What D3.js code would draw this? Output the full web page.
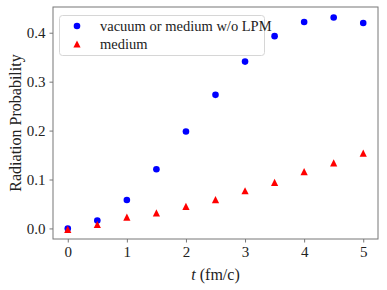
<!DOCTYPE html>
<head>
  <meta charset="utf-8">
  <script src="https://cdnjs.cloudflare.com/ajax/libs/d3/7.8.5/d3.min.js"></script>
  <style>
    body { margin:0; background:#fff; }
    text { font-family: "Liberation Serif", "DejaVu Serif", serif; fill:#222; }
  </style>
</head>
<body>
  <div id="vis"></div>
  <script>
    // time points (fm/c)
    var times = [0, 0.5, 1, 1.5, 2, 2.5, 3, 3.5, 4, 4.5, 5];
    var vacuum = [0.000, 0.016, 0.058, 0.121, 0.198, 0.273, 0.341, 0.393, 0.422, 0.431, 0.420];
    var medium = [-0.002, 0.008, 0.023, 0.032, 0.045, 0.059, 0.077, 0.094, 0.116, 0.134, 0.154];
    var xTicks = [0, 1, 2, 3, 4, 5];
    var yTicks = [0.0, 0.1, 0.2, 0.3, 0.4];
    var legendLabels = ["vacuum or medium w/o LPM", "medium"];

    var width = 387, height = 290;
    var m = {left: 53, right: 9, top: 7, bottom: 51};

    var svg = d3.select("#vis").append("svg")
      .attr("width", width)
      .attr("height", height);

    var x = d3.scaleLinear().domain([-0.25, 5.25]).range([m.left, width - m.right]);
    var y = d3.scaleLinear().domain([-0.0216, 0.4526]).range([height - m.bottom, m.top]);

    var xAxis = svg.append("g")
      .attr("transform", "translate(0," + (height - m.bottom) + ")")
      .call(d3.axisBottom(x).tickValues(xTicks).tickFormat(d3.format("d")).tickSize(3.5).tickPadding(4));
    var yAxis = svg.append("g")
      .attr("transform", "translate(" + m.left + ",0)")
      .call(d3.axisLeft(y).tickValues(yTicks).tickFormat(d3.format(".1f")).tickSize(3.5).tickPadding(4));

    [xAxis, yAxis].forEach(function(g) {
      g.select(".domain").remove();
      g.selectAll(".tick line").attr("stroke", "#555").attr("stroke-width", 0.8);
      g.selectAll(".tick text").style("font-size", "15px").attr("fill", "#333");
    });

    // frame
    svg.append("rect")
      .attr("x", m.left).attr("y", m.top)
      .attr("width", width - m.left - m.right)
      .attr("height", height - m.top - m.bottom)
      .attr("fill", "none").attr("stroke", "#777").attr("stroke-width", 1);

    var pts = times.map(function(t, i) { return {t: t, v: vacuum[i], m: medium[i]}; });
    var triPath = "M0,-3.6L3.6,3.6L-3.6,3.6Z";

    svg.selectAll(".circ").data(pts).enter().append("circle")
      .attr("cx", function(d) { return x(d.t); })
      .attr("cy", function(d) { return y(d.v); })
      .attr("r", 3.3)
      .attr("fill", "#0000ff");

    svg.selectAll(".tri").data(pts).enter().append("path")
      .attr("d", triPath)
      .attr("transform", function(d) { return "translate(" + x(d.t) + "," + y(d.m) + ")"; })
      .attr("fill", "#ff0000");

    // legend
    var lg = svg.append("g");
    lg.append("rect")
      .attr("x", 59.5).attr("y", 15.5).attr("width", 205).attr("height", 40)
      .attr("rx", 3).attr("fill", "#fff").attr("fill-opacity", 0.8)
      .attr("stroke", "#d6d6d6");
    lg.append("circle").attr("cx", 77).attr("cy", 26).attr("r", 3.3).attr("fill", "#0000ff");
    lg.append("path").attr("d", triPath)
      .attr("transform", "translate(77,44)").attr("fill", "#ff0000");
    legendLabels.forEach(function(l, i) {
      lg.append("text").attr("x", 100).attr("y", 30.5 + i * 18)
        .style("font-size", "14.5px").text(l);
    });

    // axis labels
    var xl = svg.append("text")
      .attr("x", (m.left + width - m.right) / 2).attr("y", 280)
      .attr("text-anchor", "middle").style("font-size", "16px");
    xl.append("tspan").style("font-style", "italic").text("t");
    xl.append("tspan").text(" (fm/c)");

    svg.append("text")
      .attr("transform", "translate(21," + ((m.top + height - m.bottom) / 2) + ") rotate(-90)")
      .attr("text-anchor", "middle").style("font-size", "16px")
      .text("Radiation Probability");
  </script>
</body>
